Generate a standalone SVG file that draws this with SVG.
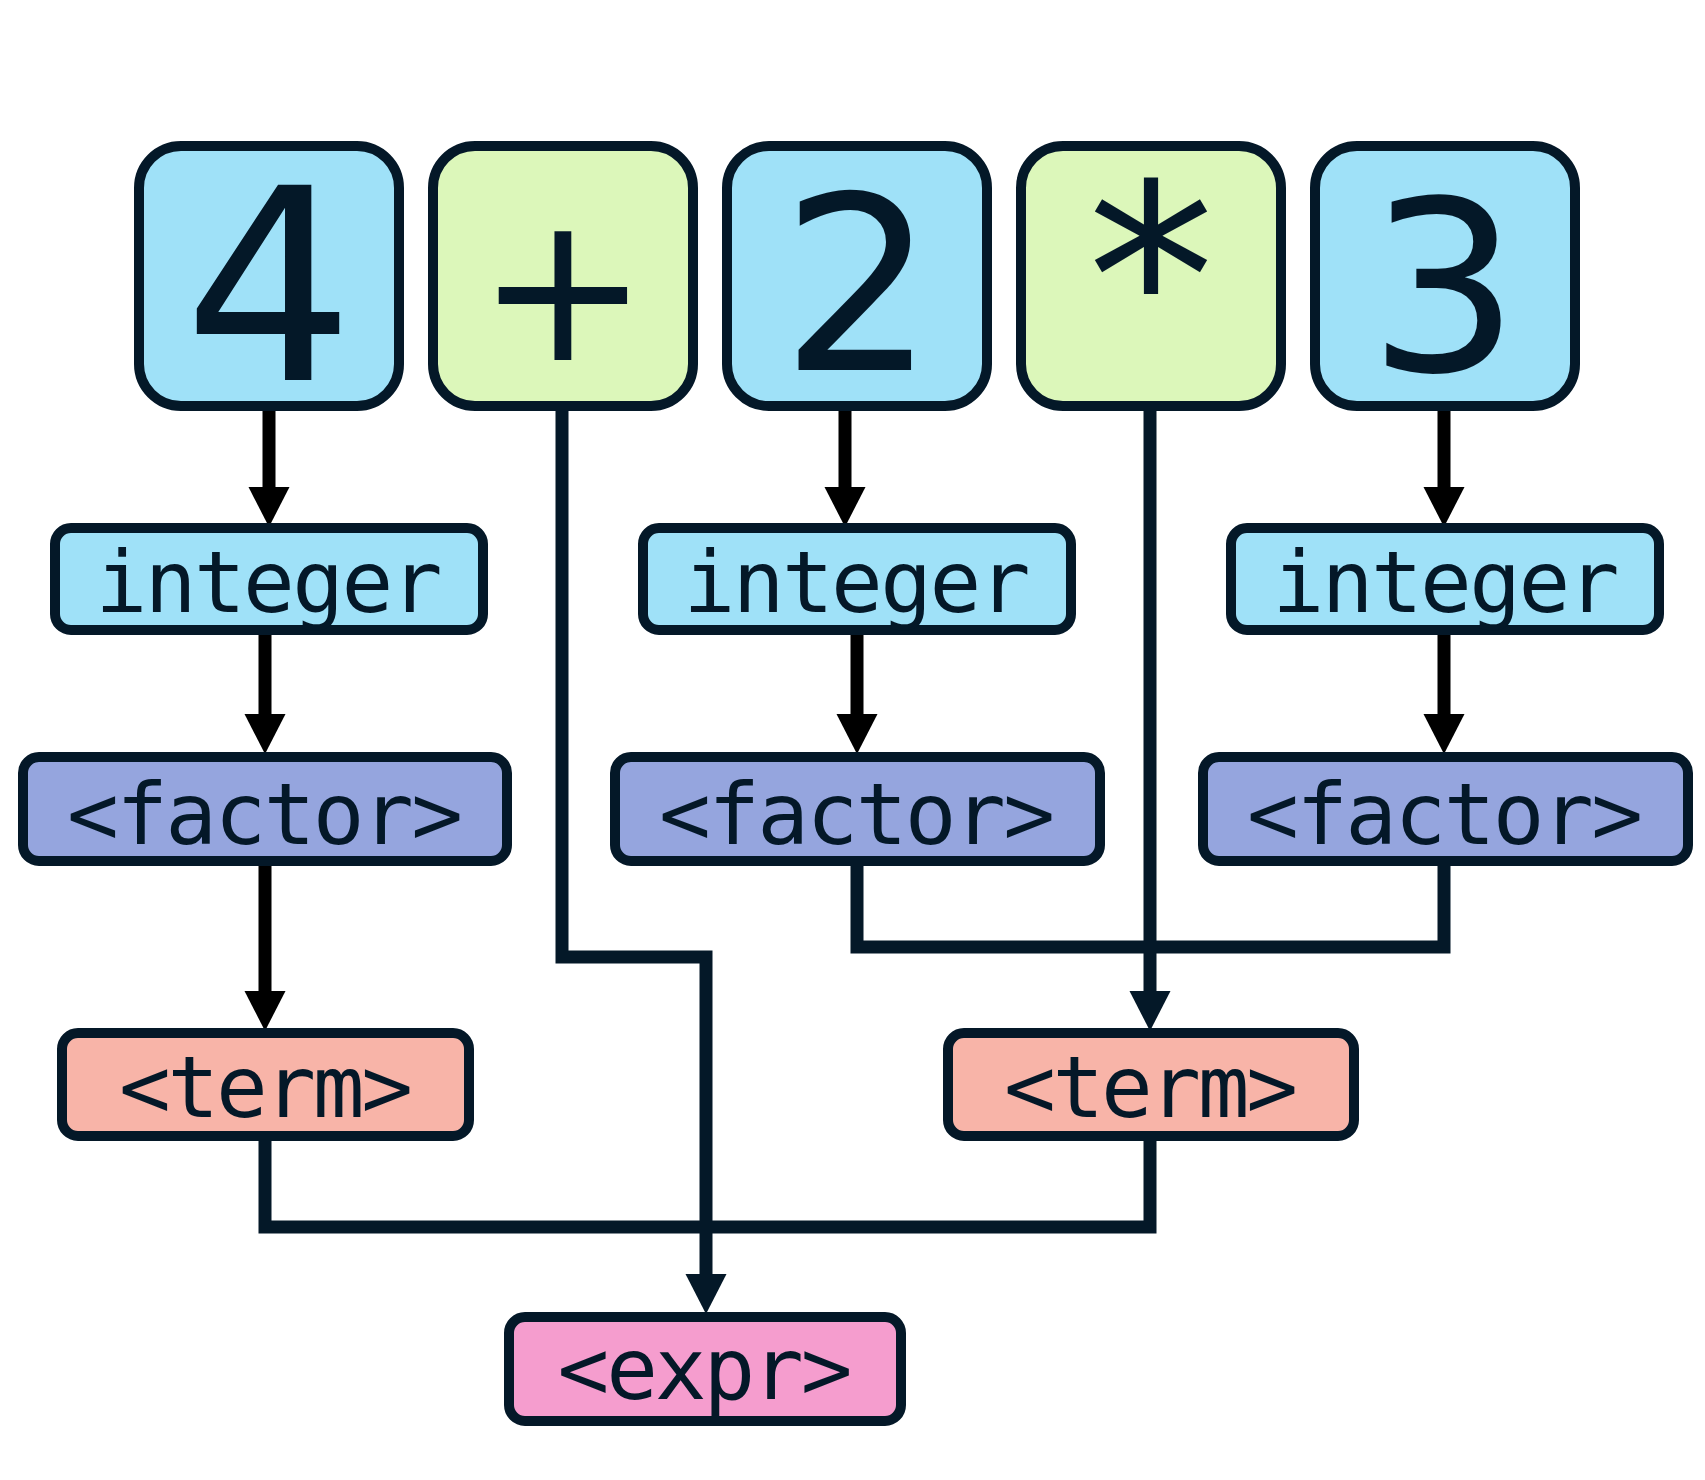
<svg xmlns="http://www.w3.org/2000/svg" width="1705" height="1480" viewBox="0 0 1705 1480">
<style>
.box{stroke:#041828;stroke-width:10}
.tok{fill:#9fe1f8}
.op{fill:#dcf7ba}
.fac{fill:#95a5de}
.trm{fill:#f8b4a8}
.exp{fill:#f59dce}
.big{font-family:"DejaVu Sans",sans-serif;fill:#041828;text-anchor:middle}
.lbl{font-family:"DejaVu Sans Mono",monospace;font-size:86px;fill:#041828;text-anchor:middle}
.blk{fill:none;stroke:#000;stroke-width:13}
.nav{fill:none;stroke:#041828;stroke-width:13}
</style>
<defs>
<marker id="ab" markerUnits="userSpaceOnUse" markerWidth="42" markerHeight="44" viewBox="0 -22 42 44" refX="0" refY="0" orient="auto"><path d="M0,-20.5 L40,0 L0,20.5 Z" fill="#000"/></marker>
<marker id="an" markerUnits="userSpaceOnUse" markerWidth="42" markerHeight="44" viewBox="0 -22 42 44" refX="0" refY="0" orient="auto"><path d="M0,-20.5 L40,0 L0,20.5 Z" fill="#041828"/></marker>
</defs>
<rect width="1705" height="1480" fill="#fff"/>
<g id="connectors">
<path class="blk" d="M269,406 V487" marker-end="url(#ab)"/>
<path class="blk" d="M845,406 V487" marker-end="url(#ab)"/>
<path class="blk" d="M1444,406 V487" marker-end="url(#ab)"/>
<path class="blk" d="M265,630 V714" marker-end="url(#ab)"/>
<path class="blk" d="M857,630 V714" marker-end="url(#ab)"/>
<path class="blk" d="M1444,630 V714" marker-end="url(#ab)"/>
<path class="blk" d="M265,861 V991" marker-end="url(#ab)"/>
<path class="nav" d="M857,861 V947 H1444 V861"/>
<path class="nav" d="M1150,406 V991" marker-end="url(#an)"/>
<path class="nav" d="M562,406 V957 H706 V1274" marker-end="url(#an)"/>
<path class="nav" d="M265,1136 V1227 H1150 V1136"/>
</g>
<g id="n4"><rect class="box tok" x="139" y="146" width="260" height="260" rx="42"/><text class="big" x="269" y="380" font-size="268">4</text></g>
<g id="nplus"><rect class="box op" x="433" y="146" width="260" height="260" rx="42"/><text class="big" x="563" y="360" font-size="205">+</text></g>
<g id="n2"><rect class="box tok" x="727" y="146" width="260" height="260" rx="42"/><text class="big" x="858" y="370" font-size="243">2</text></g>
<g id="nstar"><rect class="box op" x="1021" y="146" width="260" height="260" rx="42"/><text class="big" x="1151" y="367" font-size="255">*</text></g>
<g id="n3"><rect class="box tok" x="1315" y="146" width="260" height="260" rx="42"/><text class="big" x="1444" y="371" font-size="238">3</text></g>
<g id="int1"><rect class="box tok" x="55" y="528" width="428" height="102" rx="16"/><text class="lbl" x="269" y="612" textLength="347">integer</text></g>
<g id="int2"><rect class="box tok" x="643" y="528" width="428" height="102" rx="16"/><text class="lbl" x="857" y="612" textLength="347">integer</text></g>
<g id="int3"><rect class="box tok" x="1231" y="528" width="428" height="102" rx="16"/><text class="lbl" x="1446" y="612" textLength="347">integer</text></g>
<g id="fac1"><rect class="box fac" x="23" y="757" width="484" height="104" rx="16"/><text class="lbl" x="265" y="844" textLength="396">&lt;factor&gt;</text></g>
<g id="fac2"><rect class="box fac" x="615" y="757" width="485" height="104" rx="16"/><text class="lbl" x="857" y="844" textLength="396">&lt;factor&gt;</text></g>
<g id="fac3"><rect class="box fac" x="1203" y="757" width="485" height="104" rx="16"/><text class="lbl" x="1445" y="844" textLength="396">&lt;factor&gt;</text></g>
<g id="term1"><rect class="box trm" x="62" y="1033" width="407" height="103" rx="16"/><text class="lbl" x="266" y="1117" textLength="294">&lt;term&gt;</text></g>
<g id="term2"><rect class="box trm" x="948" y="1033" width="406" height="103" rx="16"/><text class="lbl" x="1151" y="1117" textLength="294">&lt;term&gt;</text></g>
<g id="expr"><rect class="box exp" x="509" y="1317" width="392" height="104" rx="16"/><text class="lbl" x="705" y="1399" textLength="295">&lt;expr&gt;</text></g>
</svg>
